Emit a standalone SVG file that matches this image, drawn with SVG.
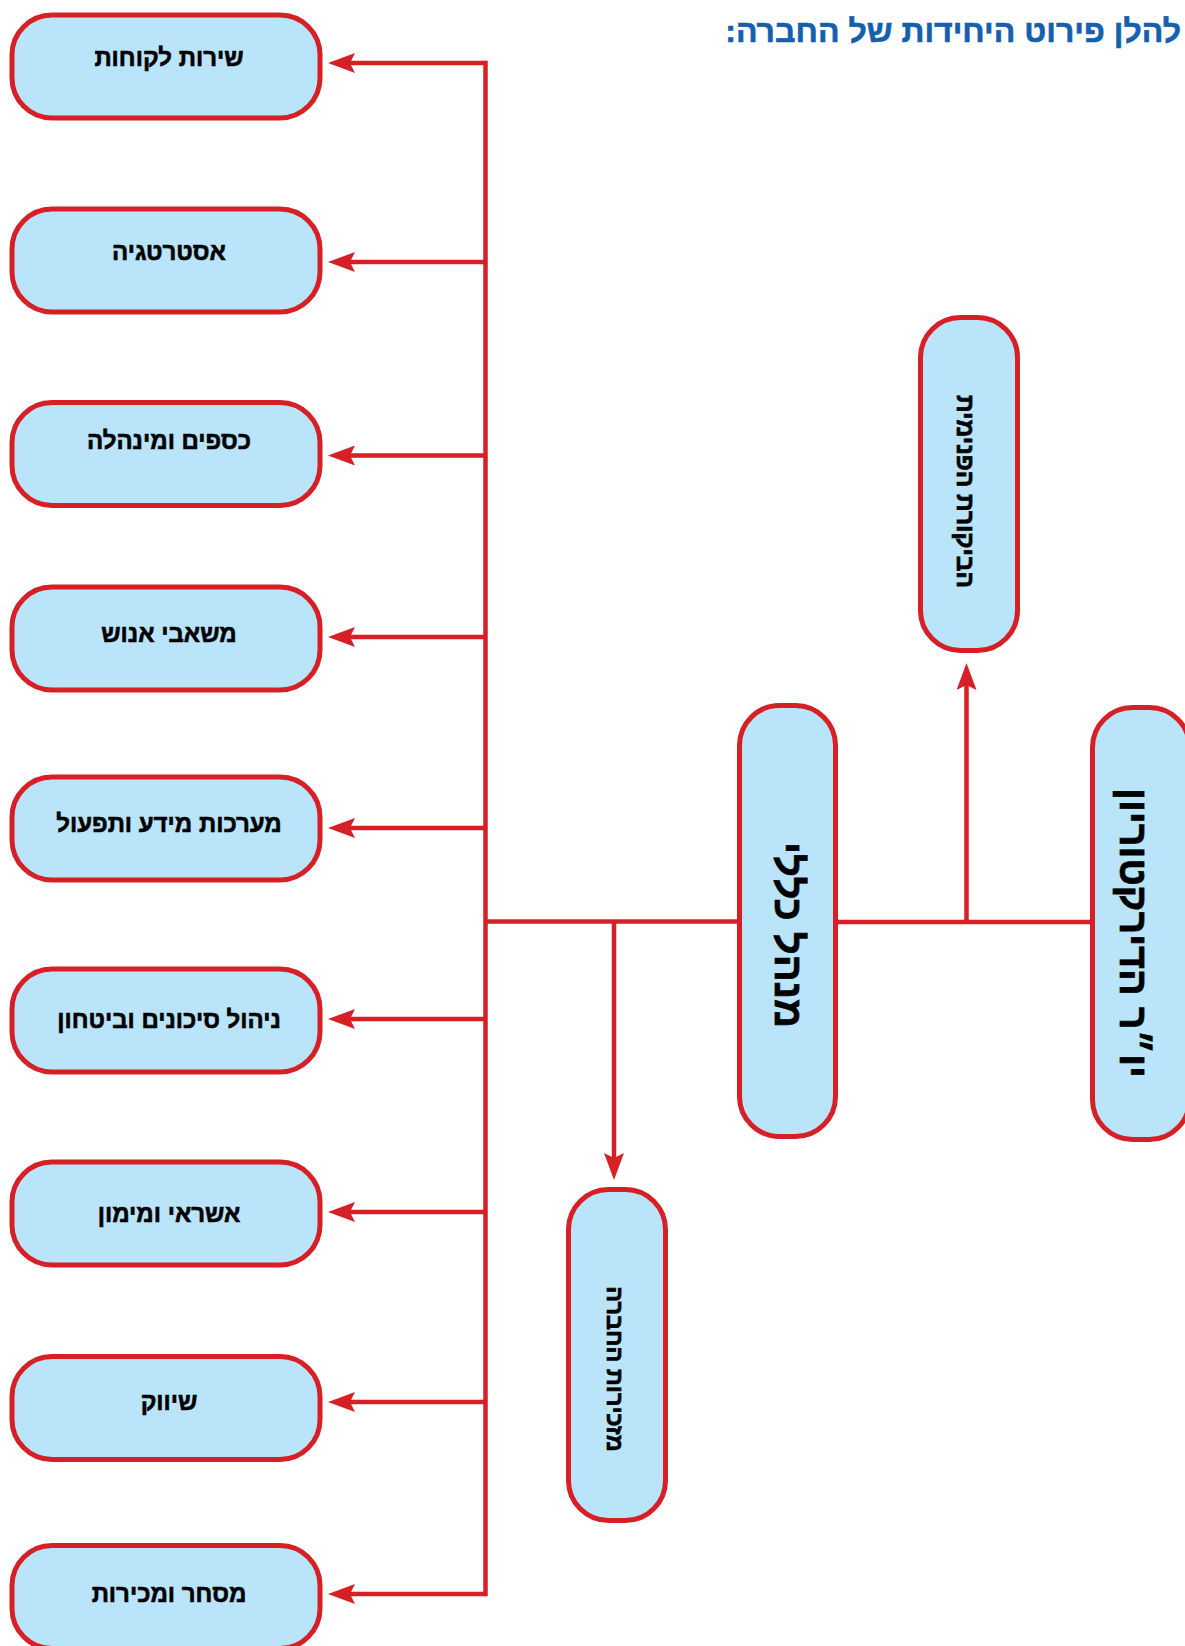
<svg xmlns="http://www.w3.org/2000/svg" width="1185" height="1646" viewBox="0 0 1185 1646">
<style>
.box{fill:#b9e4f9;stroke:#d71f26;stroke-width:5}
.lbl{font-family:"Liberation Sans","DejaVu Sans",sans-serif;font-weight:bold;font-size:24px;fill:#000;stroke:#000;stroke-width:0.6;text-anchor:middle;direction:rtl}
.vl{font-family:"Liberation Sans","DejaVu Sans",sans-serif;font-weight:bold;fill:#000;stroke:#000;stroke-width:0.7;text-anchor:middle;direction:rtl}
.ln{fill:none;stroke:#d71f26;stroke-width:4.5}
.ar{fill:none;stroke:#d71f26;stroke-width:4.5;marker-end:url(#ah)}
.title{font-family:"Liberation Sans","DejaVu Sans",sans-serif;font-weight:bold;font-size:32px;fill:#1560ac;stroke:#1560ac;stroke-width:0.6;direction:rtl;text-anchor:start}
</style>
<defs>
<marker id="ah" viewBox="0 -10 27 20" markerWidth="27" markerHeight="20" refX="19" refY="0" orient="auto" markerUnits="userSpaceOnUse">
<path d="M0 -10 L27 0 L0 10 L5 0 Z" fill="#d71f26"/>
</marker>
</defs>
<text class="title" x="1181" y="42">להלן פירוט היחידות של החברה:</text>
<g id="connectors">
<path class="ln" d="M485.5 63 V1594" stroke-linecap="square"/>
<path class="ar" d="M485.5 63 H336"/>
<path class="ar" d="M485.5 262 H336"/>
<path class="ar" d="M485.5 455.5 H336"/>
<path class="ar" d="M485.5 637 H336"/>
<path class="ar" d="M485.5 828 H336"/>
<path class="ar" d="M485.5 1019 H336"/>
<path class="ar" d="M485.5 1212 H336"/>
<path class="ar" d="M485.5 1402 H336"/>
<path class="ar" d="M485.5 1594 H336"/>
<path class="ln" d="M485.5 921.5 H738"/>
<path class="ar" d="M614 921.5 V1172"/>
<path class="ln" d="M837 922 H1091"/>
<path class="ar" d="M966.5 922 V671"/>
</g>
<g id="n1"><rect class="box" x="12" y="15" width="308" height="103" rx="40"/><text class="lbl" x="169" y="66">שירות לקוחות</text></g>
<g id="n2"><rect class="box" x="12" y="209" width="308" height="103" rx="40"/><text class="lbl" x="169" y="260">אסטרטגיה</text></g>
<g id="n3"><rect class="box" x="12" y="402.5" width="308" height="103" rx="40"/><text class="lbl" x="169" y="449">כספים ומינהלה</text></g>
<g id="n4"><rect class="box" x="12" y="587" width="308" height="103" rx="40"/><text class="lbl" x="169" y="642">משאבי אנוש</text></g>
<g id="n5"><rect class="box" x="12" y="777" width="308" height="103" rx="40"/><text class="lbl" x="169" y="832">מערכות מידע ותפעול</text></g>
<g id="n6"><rect class="box" x="12" y="969" width="308" height="103" rx="40"/><text class="lbl" x="169" y="1028">ניהול סיכונים וביטחון</text></g>
<g id="n7"><rect class="box" x="12" y="1162" width="308" height="103" rx="40"/><text class="lbl" x="169" y="1222">אשראי ומימון</text></g>
<g id="n8"><rect class="box" x="12" y="1356.5" width="308" height="103" rx="40"/><text class="lbl" x="169" y="1410">שיווק</text></g>
<g id="n9"><rect class="box" x="12" y="1545.5" width="308" height="103" rx="40"/><text class="lbl" x="169" y="1602">מסחר ומכירות</text></g>
<g id="chair"><rect class="box" x="1092.5" y="707.5" width="97" height="432" rx="40"/><text class="vl" font-size="39.5" transform="translate(1133,933) rotate(90)" x="0" y="13">יו״ר הדירקטוריון</text></g>
<g id="ceo"><rect class="box" x="739.5" y="705.5" width="96" height="431" rx="40"/><text class="vl" font-size="40" transform="translate(788.5,935) rotate(90)" x="0" y="14">מנהל כללי</text></g>
<g id="audit"><rect class="box" x="920.5" y="317.5" width="97" height="333" rx="40"/><text class="vl" font-size="24.5" transform="translate(965,491.5) rotate(90)" x="0" y="8.5">הביקורת הפנימית</text></g>
<g id="secretary"><rect class="box" x="568.5" y="1189.5" width="97" height="331" rx="40"/><text class="vl" font-size="23.5" transform="translate(615,1369) rotate(90)" x="0" y="8">מזכירות החברה</text></g>
</svg>
